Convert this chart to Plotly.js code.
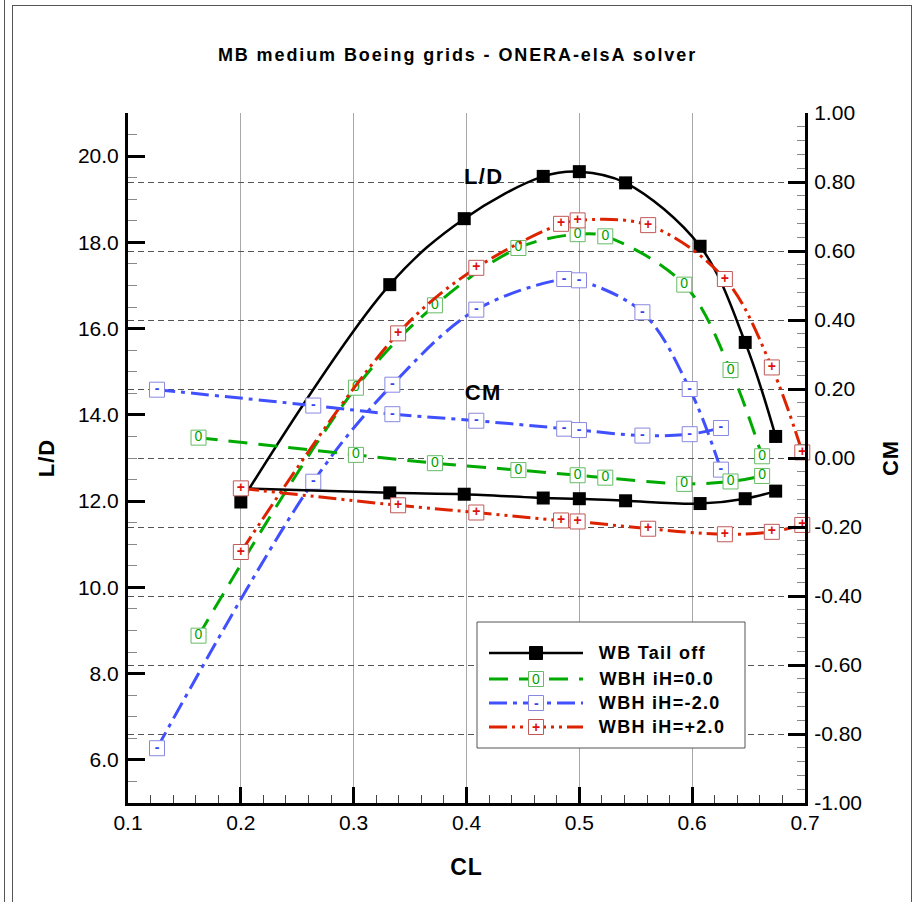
<!DOCTYPE html>
<html><head><meta charset="utf-8">
<script src="https://cdn.plot.ly/plotly-3.0.1.min.js"></script>
<style>
body{margin:0;background:#fff;}
#wrap{position:relative;width:915px;height:902px;overflow:hidden;}
#chart{position:absolute;left:0;top:0;width:915px;height:902px;}
.fl{position:absolute;pointer-events:none;z-index:5;}
.gtitle{letter-spacing:1.9px;}
.annotation[data-index="0"] .annotation-text,
.annotation[data-index="1"] .annotation-text,
.annotation[data-index="2"] .annotation-text,
.annotation[data-index="3"] .annotation-text,
.annotation[data-index="4"] .annotation-text,
.annotation[data-index="5"] .annotation-text{letter-spacing:1.3px;}
.xtitle,.ytitle,.y2title{letter-spacing:1px;}
</style>
</head><body>
<div id="wrap">
<div id="chart"></div>
<div class="fl" style="left:4px;top:0;width:0;height:902px;border-left:1px solid #555;"></div>
<div class="fl" style="left:12px;top:5px;width:898px;height:905px;border:1px solid #555;"></div>
</div>
<script>
// ---- data ----
const cl_wb  = [0.200, 0.332, 0.398, 0.468, 0.500, 0.541, 0.607, 0.647, 0.674];
const ld_wb  = [11.98, 17.02, 18.55, 19.53, 19.64, 19.38, 17.91, 15.68, 13.50];
const cm_wb  = [-0.088, -0.101, -0.105, -0.116, -0.118, -0.124, -0.132, -0.118, -0.096];

const cl_h0  = [0.1625, 0.302, 0.372, 0.446, 0.4985, 0.523, 0.593, 0.634, 0.662];
const ld_h0  = [8.88, 14.63, 16.54, 17.87, 18.19, 18.14, 17.02, 15.04, 13.04];
const cm_h0  = [0.059, 0.009, -0.015, -0.035, -0.050, -0.057, -0.075, -0.068, -0.052];

const cl_hm2 = [0.1257, 0.2642, 0.3343, 0.4087, 0.4866, 0.4997, 0.5559, 0.5978, 0.6255];
const ld_hm2 = [6.27, 12.45, 14.70, 16.44, 17.15, 17.12, 16.38, 14.60, 12.73];
const cm_hm2 = [0.198, 0.152, 0.127, 0.108, 0.085, 0.081, 0.065, 0.069, 0.087];

const cl_hp2 = [0.200, 0.3394, 0.4087, 0.4838, 0.4985, 0.561, 0.629, 0.6706, 0.6976];
const ld_hp2 = [10.82, 15.89, 17.41, 18.43, 18.51, 18.40, 17.15, 15.10, 13.13];
const cm_hp2 = [-0.088, -0.137, -0.158, -0.181, -0.184, -0.205, -0.221, -0.214, -0.194];

const seriesNames = ['WB Tail off', 'WBH iH=0.0', 'WBH iH=-2.0', 'WBH iH=+2.0'];
const markerLabels = ['', '0', '-', '+'];

const xTickVals = [0.1, 0.2, 0.3, 0.4, 0.5, 0.6, 0.7];
const xTickText = ['0.1', '0.2', '0.3', '0.4', '0.5', '0.6', '0.7'];
const ldTickVals = [6, 8, 10, 12, 14, 16, 18, 20];
const ldTickText = ['6.0', '8.0', '10.0', '12.0', '14.0', '16.0', '18.0', '20.0'];
const cmTickVals = [-1, -0.8, -0.6, -0.4, -0.2, 0, 0.2, 0.4, 0.6, 0.8, 1];
const cmTickText = ['-1.00', '-0.80', '-0.60', '-0.40', '-0.20', '0.00', '0.20', '0.40', '0.60', '0.80', '1.00'];

const titleText = 'MB medium Boeing grids - ONERA-elsA solver';

// ---- styles ----
const FONT = 'Liberation Sans, Arial, Helvetica, sans-serif';
const styles = [
  {line: '#000000', dash: 'solid', width: 2.5, box: '#000000', txt: '#000000', filled: true},
  {line: '#00aa00', dash: '19px,11px', width: 3, box: '#66bb66', txt: '#00a000'},
  {line: '#4050ff', dash: '18px,6px,4px,6px', width: 3, box: '#8888e0', txt: '#3344ee'},
  {line: '#dd2200', dash: '18px,5px,3px,5px,3px,5px', width: 3, box: '#c05858', txt: '#dd1111'}
];
const CLs = [cl_wb, cl_h0, cl_hm2, cl_hp2];
const LDs = [ld_wb, ld_h0, ld_hm2, ld_hp2];
const CMs = [cm_wb, cm_h0, cm_hm2, cm_hp2];

function mkTrace(i, xs, ys, yaxis) {
  const s = styles[i];
  const t = {
    x: xs, y: ys, yaxis: yaxis, type: 'scatter', name: seriesNames[i],
    showlegend: false, cliponaxis: false, hoverinfo: 'skip',
    line: {color: s.line, dash: s.dash, width: s.width, shape: 'spline', smoothing: 1},
  };
  if (s.filled) {
    t.mode = 'lines+markers';
    t.marker = {symbol: 'square', size: 13, color: '#000'};
  } else {
    t.mode = 'lines+markers+text';
    t.marker = {symbol: 'square', size: 15, color: '#ffffff', line: {color: s.box, width: 1}};
    t.text = xs.map(() => markerLabels[i]);
    t.textposition = 'middle center';
    t.textfont = {family: FONT, size: 14, color: s.txt, weight: i === 1 ? 'normal' : 'bold'};
  }
  return t;
}

const traces = [];
for (let i = 0; i < 4; i++) traces.push(mkTrace(i, CLs[i], LDs[i], 'y'));
for (let i = 0; i < 4; i++) traces.push(mkTrace(i, CLs[i], CMs[i], 'y2'));

// ---- manual legend (paper coords) ----
const L = 128, R = 805, T = 113, B = 803;
const PX = px => (px - L) / (R - L);
const PY = py => (B - py) / (B - T);
const shapes = [];
const annotations = [];
const markerAnns = [];
shapes.push({type: 'rect', xref: 'paper', yref: 'paper', x0: PX(477), x1: PX(745), y0: PY(622), y1: PY(748),
  line: {color: '#555', width: 1}, fillcolor: '#ffffff', layer: 'above'});
const rowY = [653, 679, 703, 727];
for (let i = 0; i < 4; i++) {
  const s = styles[i];
  const y = rowY[i];
  shapes.push({type: 'line', xref: 'paper', yref: 'paper', x0: PX(489), x1: PX(583), y0: PY(y), y1: PY(y),
    line: {color: s.line, width: s.width, dash: s.dash}});
  const h = s.filled ? 6.5 : 7.5;
  shapes.push({type: 'rect', xref: 'paper', yref: 'paper', x0: PX(536 - h), x1: PX(536 + h), y0: PY(y + h), y1: PY(y - h),
    line: {color: s.box, width: 1}, fillcolor: s.filled ? '#000' : '#fff'});
  if (!s.filled) {
    markerAnns.push({xref: 'paper', yref: 'paper', x: PX(536), y: PY(y), text: markerLabels[i], showarrow: false,
      xanchor: 'center', yanchor: 'middle', font: {family: FONT, size: 14, color: s.txt, weight: i === 1 ? 'normal' : 'bold'}});
  }
  annotations.push({xref: 'paper', yref: 'paper', x: PX(604), y: PY(y), text: seriesNames[i], showarrow: false,
    xanchor: 'left', yanchor: 'middle', font: {family: FONT, size: 18, color: '#000', weight: 'bold'}});
}
annotations.push({xref: 'paper', yref: 'paper', x: PX(483), y: PY(177), text: 'L/D', showarrow: false,
  xanchor: 'center', yanchor: 'middle', font: {family: FONT, size: 22, color: '#000', weight: 'bold'}});
annotations.push({xref: 'paper', yref: 'paper', x: PX(483), y: PY(392), text: 'CM', showarrow: false,
  xanchor: 'center', yanchor: 'middle', font: {family: FONT, size: 22, color: '#000', weight: 'bold'}});
const allAnns = annotations.concat(markerAnns);

const tickFont = {family: FONT, size: 21, color: '#000'};
const layout = {
  width: 915, height: 902,
  margin: {l: L, r: 915 - R, t: T, b: 902 - B, pad: 0},
  paper_bgcolor: '#ffffff', plot_bgcolor: '#ffffff',
  showlegend: false,
  title: {text: titleText, font: {family: FONT, size: 18, color: '#000', weight: 'bold'},
    x: 0.5, xref: 'container', xanchor: 'center', y: 1 - 55 / 902, yref: 'container', yanchor: 'middle'},
  xaxis: {
    range: [0.1, 0.7], tickmode: 'array', tickvals: xTickVals, ticktext: xTickText,
    ticks: 'inside', ticklen: 16, tickwidth: 3, tickcolor: '#000',
    minor: {tickmode: 'linear', tick0: 0.1, dtick: 0.02, ticks: 'inside', ticklen: 8, tickwidth: 1, tickcolor: '#444', showgrid: false},
    showline: true, linewidth: 3, linecolor: '#000', mirror: false, zeroline: false,
    showgrid: true, gridcolor: '#a8a8a8', gridwidth: 1,
    tickfont: tickFont, ticklabelstandoff: -1, automargin: false,
    title: {text: 'CL', font: {family: FONT, size: 23, color: '#000', weight: 'bold'}, standoff: 26}
  },
  yaxis: {
    range: [5, 21], tickmode: 'array', tickvals: ldTickVals, ticktext: ldTickText,
    ticks: 'inside', ticklen: 17, tickwidth: 3, tickcolor: '#000',
    minor: {tickmode: 'linear', tick0: 0, dtick: 0.5, ticks: 'inside', ticklen: 9, tickwidth: 1, tickcolor: '#888', showgrid: false},
    showline: true, linewidth: 3, linecolor: '#000', mirror: false, zeroline: false, showgrid: false,
    tickfont: tickFont, ticklabelstandoff: 2, automargin: false,
    title: {text: 'L/D', font: {family: FONT, size: 22, color: '#000', weight: 'bold'}, standoff: 18}
  },
  yaxis2: {
    overlaying: 'y', side: 'right',
    range: [-1, 1], tickmode: 'array', tickvals: cmTickVals, ticktext: cmTickText,
    ticks: 'inside', ticklen: 17, tickwidth: 3, tickcolor: '#000',
    minor: {tickmode: 'linear', tick0: 0, dtick: 0.04, ticks: 'inside', ticklen: 8, tickwidth: 1, tickcolor: '#888', showgrid: false},
    showline: true, linewidth: 3, linecolor: '#000', mirror: false, zeroline: false,
    showgrid: true, gridcolor: '#555', gridwidth: 1, griddash: '6px,4px',
    tickfont: tickFont, ticklabelstandoff: 2, automargin: false,
    title: {text: 'CM', font: {family: FONT, size: 22, color: '#000', weight: 'bold'}, standoff: 22}
  },
  shapes: shapes,
  annotations: allAnns
};

Plotly.newPlot('chart', traces, layout, {staticPlot: true, displayModeBar: false});
</script>
</body></html>
